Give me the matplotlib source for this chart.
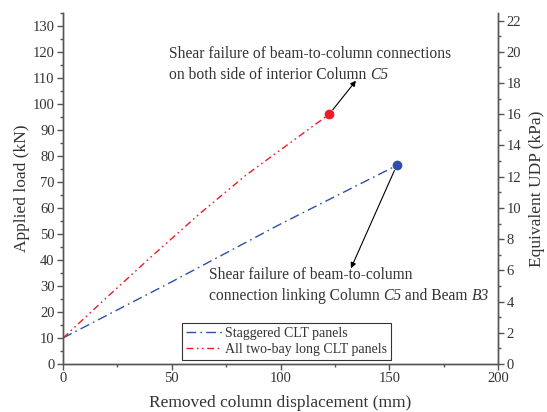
import matplotlib
matplotlib.use('Agg')
import matplotlib.pyplot as plt
from matplotlib.ticker import MultipleLocator
from matplotlib.offsetbox import TextArea, HPacker, VPacker, AnnotationBbox

plt.rcParams['font.family'] = 'Liberation Serif'

# load-displacement curves (displacement in mm, load in kN)
stag_disp = [0, 50, 100, 153.4]
stag_load = [10, 31.6, 53.8, 76.3]
twobay_disp = [0, 20, 40, 63, 84, 99, 122.4]
twobay_load = [10, 25.5, 40.8, 57.9, 72.5, 81.7, 96.0]

labels = ['Staggered CLT panels', 'All two-bay long CLT panels']
kn_per_kpa = 6.0

blue = '#2f4fa8'
red = '#ee1c25'
ink = '#333333'


def note(ax, xy, lines, size=11.2):
    """Left-aligned multi-line note; each line is a list of (text, italic)."""
    rows = []
    for parts in lines:
        areas = [TextArea(s, textprops=dict(fontsize=size, color=ink,
                                            fontstyle='italic' if it else 'normal'))
                 for s, it in parts]
        rows.append(HPacker(children=areas, pad=0, sep=0, align='baseline'))
    box = VPacker(children=rows, pad=0, sep=4, align='left')
    ab = AnnotationBbox(box, xy, xycoords='data', box_alignment=(0, 1),
                        frameon=False, pad=0)
    ax.add_artist(ab)


fig = plt.figure(figsize=(5.47, 4.12), dpi=100)
ax = fig.add_axes([0.1152, 0.1165, 0.7952, 0.8525])

l1, = ax.plot(stag_disp, stag_load, color=blue, lw=1.0, dashes=[7, 3, 1.2, 3])
l2, = ax.plot(twobay_disp, twobay_load, color=red, lw=1.0,
              dashes=[5, 2.5, 1.2, 2.5, 1.2, 2.5])
ax.plot(stag_disp[-1], stag_load[-1], 'o', color=blue, ms=6, zorder=5)
ax.plot(twobay_disp[-1], twobay_load[-1], 'o', color=red, ms=6, zorder=5)

ax.set_xlim(0, 200)
ax.set_ylim(0, 135)
ax.xaxis.set_major_locator(MultipleLocator(50))
ax.xaxis.set_minor_locator(MultipleLocator(25))
ax.yaxis.set_major_locator(MultipleLocator(10))
ax.yaxis.set_minor_locator(MultipleLocator(5))

ax2 = ax.twinx()
ax2.set_ylim(0, 135 / kn_per_kpa)
ax2.yaxis.set_major_locator(MultipleLocator(2))
ax2.yaxis.set_minor_locator(MultipleLocator(1))

for a in (ax, ax2):
    for s in a.spines.values():
        s.set_color('#555555')
        s.set_linewidth(1.0)
    a.spines['top'].set_visible(False)
    a.tick_params(which='major', direction='out', length=4, width=1.0,
                  color='#555555', labelsize=10.5, labelcolor=ink, pad=2)
    a.tick_params(which='minor', direction='out', length=2.5, width=1.0,
                  color='#555555')

ax.set_xlabel('Removed column displacement (mm)', fontsize=12.5, color=ink, labelpad=7)
ax.set_ylabel('Applied load (kN)', fontsize=12.5, color=ink, labelpad=2)
ax2.set_ylabel('Equivalent UDP (kPa)', fontsize=12.5, color=ink, labelpad=6)

arrow = dict(arrowstyle='-|>', color='black', lw=0.8, mutation_scale=8,
             shrinkA=4, shrinkB=0)
ax.annotate('', xy=(134.7, 108.9), xytext=(twobay_disp[-1], twobay_load[-1]),
            arrowprops=arrow)
ax.annotate('', xy=(132.4, 36.8), xytext=(stag_disp[-1], stag_load[-1]),
            arrowprops=arrow)

note(ax, (48.7, 122.3), [
    [('Shear failure of beam-to-column connections', False)],
    [('on both side of interior Column ', False), ('C5', True)],
])
note(ax, (67, 37.4), [
    [('Shear failure of beam-to-column', False)],
    [('connection linking Column ', False), ('C5', True),
     (' and Beam ', False), ('B3', True)],
])

leg = ax.legend([l1, l2], labels, loc='lower left', bbox_to_anchor=(0.273, 0.011),
                fontsize=10, frameon=True, fancybox=False, handlelength=2.6,
                handletextpad=0.2, borderpad=0.3, labelspacing=0.2,
                borderaxespad=0)
leg.get_frame().set_edgecolor('black')
leg.get_frame().set_linewidth(0.8)
for t in leg.get_texts():
    t.set_color(ink)

fig.savefig('out.png', dpi=100)
